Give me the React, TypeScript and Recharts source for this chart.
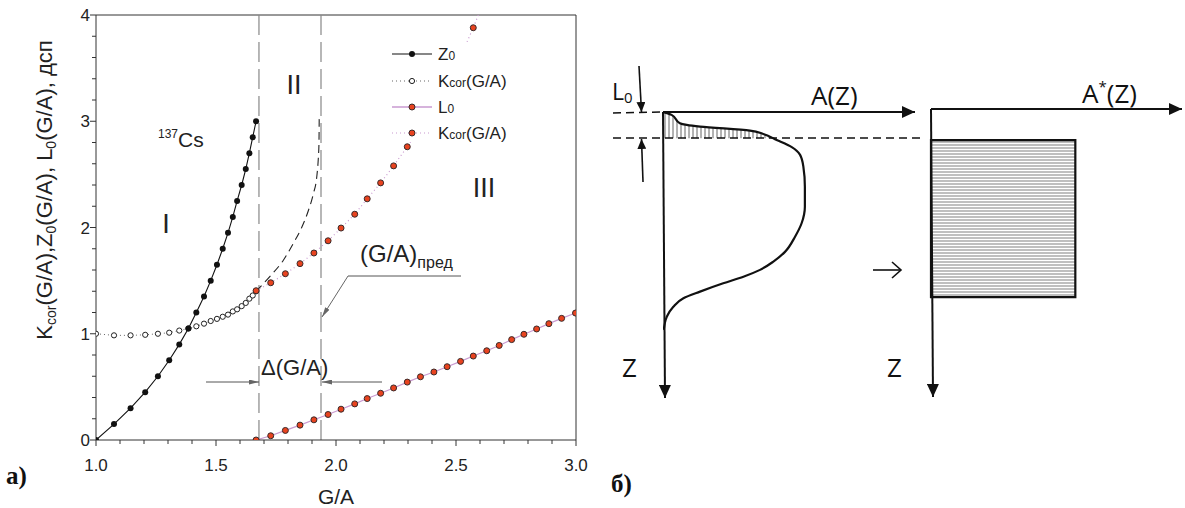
import React from "react";
import { ComposedChart, Line, Area, XAxis, YAxis, ReferenceLine, ReferenceArea } from "recharts";

// panel a) — G/A grid of the left branch (Z0 and open Kcor share it)
const gaLeft = [1.0, 1.075, 1.144, 1.205, 1.258, 1.305, 1.347, 1.385, 1.418, 1.45, 1.478, 1.504, 1.528, 1.55, 1.57, 1.588, 1.607, 1.624, 1.639, 1.653, 1.667];
const z0Values = [0, 0.15, 0.3, 0.45, 0.6, 0.75, 0.9, 1.05, 1.2, 1.35, 1.5, 1.65, 1.8, 1.95, 2.1, 2.25, 2.4, 2.55, 2.7, 2.85, 3.0];
const kcorLeft = [1.0, 0.985, 0.985, 0.99, 1.0, 1.01, 1.03, 1.05, 1.07, 1.095, 1.12, 1.14, 1.16, 1.18, 1.21, 1.23, 1.26, 1.29, 1.33, 1.36, 1.4];

// right branch (red markers)
const gaRight = [1.667, 1.728, 1.789, 1.85, 1.908, 1.967, 2.021, 2.078, 2.13, 2.186, 2.24, 2.297, 2.352, 2.408, 2.463, 2.519, 2.572, 2.628, 2.68, 2.732, 2.783, 2.836, 2.887, 2.94, 2.998];
const kcorRight = [1.405, 1.48, 1.565, 1.66, 1.76, 1.875, 1.995, 2.125, 2.27, 2.42, 2.58, 2.76, 2.95, 3.15, 3.37, 3.61, 3.88, 4.2];
const l0Values = [0, 0.04, 0.09, 0.14, 0.19, 0.24, 0.29, 0.34, 0.39, 0.44, 0.49, 0.545, 0.595, 0.64, 0.69, 0.74, 0.79, 0.84, 0.89, 0.945, 0.995, 1.045, 1.095, 1.145, 1.195];

// dashed extrapolation of Kcor into zone II
const gaDashed = [1.667, 1.725, 1.78, 1.822, 1.857, 1.885, 1.906, 1.92, 1.926, 1.929, 1.93];
const kcorDashed = [1.4, 1.54, 1.69, 1.85, 2.0, 2.16, 2.32, 2.48, 2.64, 2.79, 3.02];

const zoneBounds = [1.679, 1.9375];

const xTicks = [1.0, 1.1, 1.2, 1.3, 1.4, 1.5, 1.6, 1.7, 1.8, 1.9, 2.0, 2.1, 2.2, 2.3, 2.4, 2.5, 2.6, 2.7, 2.8, 2.9, 3.0];
const yTicks = [0, 0.2, 0.4, 0.6, 0.8, 1, 1.2, 1.4, 1.6, 1.8, 2, 2.2, 2.4, 2.6, 2.8, 3, 3.2, 3.4, 3.6, 3.8, 4];

// panel б) — activity profile A(Z), relative units
const profileZ = [0, 1.0, 3.9, 4.5, 5.1, 6.5, 7.7, 9.8, 12.3, 15.0, 19.1, 26.1, 33.1, 38.9, 43.6, 48.9, 52.3, 55.2, 57.6, 59.9, 62.8, 65.1, 68.1, 71.6, 76.2];
const profileA = [0, 3.4, 6.7, 9.4, 14.7, 34.5, 39.8, 45.1, 51.1, 54.4, 55.7, 56.3, 56.3, 55.0, 52.4, 48.4, 43.8, 38.5, 31.9, 23.9, 14.7, 8.1, 4.1, 1.5, 0.3];
const hatchZ = [0, 1.0, 3.9, 4.5, 5.1, 6.5, 7.7, 9.2];
const hatchA = [0, 3.4, 6.7, 9.4, 14.7, 34.5, 39.8, 43.5];

// equivalent uniform layer A*(Z)
const aStar = 57.5;
const zStarRange = [10.8, 65.3];

const pair = (xs: number[], ys: number[]) => ys.map((v, i) => ({ ga: xs[i], v }));
const z0Data = pair(gaLeft, z0Values);
const kcorLeftData = pair(gaLeft, kcorLeft);
const kcorRightData = pair(gaRight, kcorRight);
const l0Data = pair(gaRight, l0Values);
const dashedData = pair(gaDashed, kcorDashed);
const profileData = profileZ.map((z, i) => ({ z, a: profileA[i] }));
const hatchData = hatchZ.map((z, i) => ({ z, a: hatchA[i] }));
const starData = zStarRange.map((z) => ({ z, a: aStar }));

const SANS = "'Liberation Sans', Arial, sans-serif";
const OPEN = "'Open Sans', 'Noto Sans', sans-serif";
const RED = "#e8431f";
const PINK = "#c99ad0";

function XTick(props: any) {
  const { x, y, payload } = props;
  const v = payload.value as number;
  const major = Math.abs(v * 2 - Math.round(v * 2)) < 1e-6;
  return (
    <g>
      <line x1={x} x2={x} y1={y} y2={y + (major ? 6 : 4)} stroke="#333" />
      {major && (
        <text x={x} y={y + 31} textAnchor="middle" fontSize={17} fill="#222" fontFamily={SANS}>
          {v.toFixed(1)}
        </text>
      )}
    </g>
  );
}

function YTick(props: any) {
  const { x, y, payload } = props;
  const v = payload.value as number;
  const major = Math.abs(v - Math.round(v)) < 1e-6;
  return (
    <g>
      <line x1={x} x2={x - (major ? 6 : 4)} y1={y} y2={y} stroke="#333" />
      {major && (
        <text x={x - 6} y={y + 6} textAnchor="end" fontSize={17} fill="#222" fontFamily={SANS}>
          {v}
        </text>
      )}
    </g>
  );
}

const blackDot = (p: any) => <circle key={`b${p.index}`} cx={p.cx} cy={p.cy} r={3} fill="#111" />;
const openDot = (p: any) => <circle key={`o${p.index}`} cx={p.cx} cy={p.cy} r={2.6} fill="#fff" stroke="#222" strokeWidth={1} />;
const redDot = (p: any) => <circle key={`r${p.index}`} cx={p.cx} cy={p.cy} r={3} fill={RED} stroke="#3a2a2a" strokeWidth={1} />;

function LegendRow({ y, kind, main, sub, rest }: { y: number; kind: string; main: string; sub: string; rest?: string }) {
  const lineStyle =
    kind === "z0" ? { stroke: "#111", dash: undefined } :
    kind === "kl" ? { stroke: "#666", dash: "1 3" } :
    kind === "l0" ? { stroke: PINK, dash: undefined } : { stroke: PINK, dash: "1 3" };
  return (
    <g>
      <line x1={392} x2={432} y1={y} y2={y} stroke={lineStyle.stroke} strokeWidth={kind === "l0" ? 1.5 : 1.2} strokeDasharray={lineStyle.dash} />
      {kind === "z0" && <circle cx={412} cy={y} r={3} fill="#111" />}
      {kind === "kl" && <circle cx={412} cy={y} r={2.6} fill="#fff" stroke="#222" />}
      {(kind === "l0" || kind === "kr") && <circle cx={412} cy={y} r={3} fill={RED} stroke="#3a2a2a" />}
      <text x={438} y={y + 6} fontSize={17} fill="#222" fontFamily={SANS}>
        {main}
        <tspan fontSize={12}>{sub}</tspan>
        {rest}
      </text>
    </g>
  );
}

function Overlay() {
  return (
    <svg width={1185} height={508} style={{ position: "absolute", left: 0, top: 0, pointerEvents: "none" }}>
      <defs>
        <marker id="arrGray" markerUnits="userSpaceOnUse" markerWidth={10} markerHeight={5} viewBox="0 0 10 5" refX={10} refY={2.5} orient="auto">
          <path d="M0,0 L10,2.5 L0,5 Z" fill="#666" />
        </marker>
        <marker id="arrBlack" markerUnits="userSpaceOnUse" markerWidth={13} markerHeight={12} viewBox="0 0 13 12" refX={13} refY={6} orient="auto">
          <path d="M0,0 L13,6 L0,12 Z" fill="#111" />
        </marker>
        <marker id="arrSmall" markerUnits="userSpaceOnUse" markerWidth={10} markerHeight={9} viewBox="0 0 10 9" refX={10} refY={4.5} orient="auto">
          <path d="M0,0 L10,4.5 L0,9 Z" fill="#111" />
        </marker>
      </defs>

      {/* panel a) annotations */}
      <text transform="translate(52,190) rotate(-90)" textAnchor="middle" fontSize={22} fill="#222" fontFamily={SANS}>
        K<tspan fontSize={14} dy={4}>cor</tspan>
        <tspan dy={-4}>(G/A),Z</tspan>
        <tspan fontSize={14} dy={4}>0</tspan>
        <tspan dy={-4}>(G/A), L</tspan>
        <tspan fontSize={14} dy={4}>0</tspan>
        <tspan dy={-4}>(G/A), дсп</tspan>
      </text>
      <text x={336} y={504} textAnchor="middle" fontSize={21} fill="#222" fontFamily={SANS}>G/A</text>

      <text x={178} y={147} fontSize={21} fill="#222" fontFamily={SANS}>
        <tspan fontSize={12} dx={-20} dy={-9}>137</tspan>
        <tspan dy={9}>Cs</tspan>
      </text>
      <text x={166} y={233} textAnchor="middle" fontSize={27} fill="#222" fontFamily={SANS}>I</text>
      <text x={294} y={94} textAnchor="middle" fontSize={27} fill="#222" fontFamily={SANS}>II</text>
      <text x={484} y={197} textAnchor="middle" fontSize={27} fill="#222" fontFamily={SANS}>III</text>

      <text x={360} y={262} fontSize={24} fill="#222" fontFamily={SANS}>
        (G/A)<tspan fontSize={16} dy={6}>пред</tspan>
      </text>
      <line x1={348} y1={276} x2={461} y2={276} stroke="#555" strokeWidth={1} />
      <line x1={348} y1={276} x2={322} y2={317} stroke="#666" strokeWidth={1} markerEnd="url(#arrGray)" />

      <text x={261} y={375} fontSize={22} fill="#222" fontFamily={SANS}>Δ(G/A)</text>
      <line x1={206} y1={382} x2={259} y2={382} stroke="#555" strokeWidth={1} markerEnd="url(#arrGray)" />
      <line x1={382} y1={382} x2={322} y2={382} stroke="#555" strokeWidth={1} markerEnd="url(#arrGray)" />

      {/* legend */}
      <rect x={385} y={42} width={127} height={100} fill="#fff" />
      <LegendRow y={54} kind="z0" main="Z" sub="0" />
      <LegendRow y={81} kind="kl" main="K" sub="cor" rest="(G/A)" />
      <LegendRow y={107} kind="l0" main="L" sub="0" />
      <LegendRow y={133} kind="kr" main="K" sub="cor" rest="(G/A)" />

      <text x={6} y={484} fontSize={25} fontWeight="bold" fill="#111" fontFamily="'Liberation Serif', 'DejaVu Serif', serif">а)</text>
      <text x={611} y={492} fontSize={25} fontWeight="bold" fill="#111" fontFamily="'Liberation Serif', 'DejaVu Serif', serif">б)</text>

      {/* panel б) axes and labels */}
      <line x1={663} y1={112} x2={915} y2={112} stroke="#111" strokeWidth={2} markerEnd="url(#arrBlack)" />
      <line x1={663} y1={112} x2={665} y2={398} stroke="#111" strokeWidth={2} markerEnd="url(#arrBlack)" />
      <line x1={613} y1={113} x2={662} y2={112} stroke="#111" strokeWidth={1.5} strokeDasharray="8 5" />
      <line x1={613} y1={138} x2={925} y2={138} stroke="#111" strokeWidth={1.5} strokeDasharray="8 5" />
      <line x1={639} y1={66} x2={641.5} y2={112} stroke="#111" strokeWidth={1.6} markerEnd="url(#arrSmall)" />
      <line x1={643} y1={182} x2={641.5} y2={139} stroke="#111" strokeWidth={1.6} markerEnd="url(#arrSmall)" />
      <text x={612} y={100} fontSize={23} fill="#111" fontFamily={OPEN}>
        L<tspan fontSize={15} dy={3}>0</tspan>
      </text>
      <text x={811} y={105} fontSize={26} fill="#111" fontFamily={OPEN}>A(Z)</text>
      <text x={622} y={377} fontSize={26} fill="#111" fontFamily={OPEN}>Z</text>
      <text x={887} y={377} fontSize={26} fill="#111" fontFamily={OPEN}>Z</text>
      <line x1={873} y1={270} x2={901} y2={270} stroke="#111" strokeWidth={1.6} />
      <polyline points="892,262 901,270 892,278" fill="none" stroke="#111" strokeWidth={1.6} />

      <line x1={931} y1={109} x2={1182} y2={109} stroke="#111" strokeWidth={2} markerEnd="url(#arrBlack)" />
      <line x1={931} y1={109} x2={933} y2={397} stroke="#111" strokeWidth={2} markerEnd="url(#arrBlack)" />
      <text x={1082} y={103} fontSize={26} fill="#111" fontFamily={OPEN}>
        A<tspan fontSize={15} dy={-11}>*</tspan>
        <tspan dy={11}>(Z)</tspan>
      </text>
    </svg>
  );
}

export default function App() {
  return (
    <div style={{ position: "absolute", left: 0, top: 0, width: 1185, height: 508, background: "#fff", fontFamily: SANS }}>
      <div style={{ position: "absolute", left: 0, top: 0 }}>
        <ComposedChart width={600} height={508} margin={{ top: 15, right: 24, left: 46, bottom: 28 }}>
          <XAxis
            type="number"
            dataKey="ga"
            domain={[1, 3]}
            ticks={xTicks}
            interval={0}
            allowDataOverflow
            tickLine={false}
            tickSize={0}
            tickMargin={0}
            height={40}
            axisLine={{ stroke: "#333" }}
            tick={(p: any) => <XTick {...p} />}
          />
          <YAxis
            type="number"
            domain={[0, 4]}
            ticks={yTicks}
            interval={0}
            allowDataOverflow
            tickLine={false}
            tickSize={0}
            tickMargin={0}
            width={50}
            axisLine={{ stroke: "#333" }}
            tick={(p: any) => <YTick {...p} />}
          />
          <ReferenceLine y={4} stroke="#333" />
          <ReferenceLine x={3} stroke="#333" />
          <ReferenceLine x={zoneBounds[0]} stroke="#888" strokeWidth={1.2} strokeDasharray="20 7" />
          <ReferenceLine x={zoneBounds[1]} stroke="#888" strokeWidth={1.2} strokeDasharray="20 7" />
          <Line data={dashedData} dataKey="v" type="monotone" stroke="#222" strokeWidth={1.1} strokeDasharray="8 5" dot={false} isAnimationActive={false} />
          <Line data={kcorLeftData} dataKey="v" type="linear" stroke="#666" strokeWidth={1} strokeDasharray="1 3" dot={openDot} isAnimationActive={false} />
          <Line data={z0Data} dataKey="v" type="linear" stroke="#111" strokeWidth={1.1} dot={blackDot} isAnimationActive={false} />
          <Line data={l0Data} dataKey="v" type="linear" stroke={PINK} strokeWidth={1.2} dot={redDot} isAnimationActive={false} />
          <Line data={kcorRightData} dataKey="v" type="linear" stroke={PINK} strokeWidth={1.2} strokeDasharray="1 3" dot={redDot} isAnimationActive={false} />
        </ComposedChart>
      </div>

      <div style={{ position: "absolute", left: 600, top: 60 }}>
        <ComposedChart layout="vertical" width={340} height={360} margin={{ top: 52, right: 25, left: 63, bottom: 22 }}>
          <defs>
            <pattern id="vhatch" patternUnits="userSpaceOnUse" width={4} height={4}>
              <line x1={1} y1={0} x2={1} y2={4} stroke="#555" strokeWidth={0.9} />
            </pattern>
          </defs>
          <XAxis type="number" domain={[0, 100]} hide allowDataOverflow />
          <YAxis type="number" dataKey="z" domain={[0, 100]} hide allowDataOverflow />
          <Area data={hatchData} dataKey="a" type="monotone" fill="url(#vhatch)" fillOpacity={1} stroke="none" isAnimationActive={false} />
          <Line data={profileData} dataKey="a" type="monotone" stroke="#111" strokeWidth={2.2} dot={false} isAnimationActive={false} />
        </ComposedChart>
      </div>

      <div style={{ position: "absolute", left: 900, top: 60 }}>
        <ComposedChart layout="vertical" width={285} height={360} margin={{ top: 49, right: 3, left: 31, bottom: 23 }}>
          <defs>
            <pattern id="hhatch" patternUnits="userSpaceOnUse" width={4} height={3}>
              <rect width={4} height={3} fill="#fff" />
              <line x1={0} y1={1} x2={4} y2={1} stroke="#8a8a8a" strokeWidth={1.1} />
            </pattern>
          </defs>
          <XAxis type="number" domain={[0, 100]} hide allowDataOverflow />
          <YAxis type="number" dataKey="z" domain={[0, 100]} hide allowDataOverflow />
          <Area data={starData} dataKey="a" type="linear" fill="url(#hhatch)" fillOpacity={1} stroke="none" isAnimationActive={false} />
          <ReferenceArea x1={0} x2={aStar} y1={zStarRange[0]} y2={zStarRange[1]} fill="none" stroke="#111" strokeWidth={2.2} />
        </ComposedChart>
      </div>

      <Overlay />
    </div>
  );
}
